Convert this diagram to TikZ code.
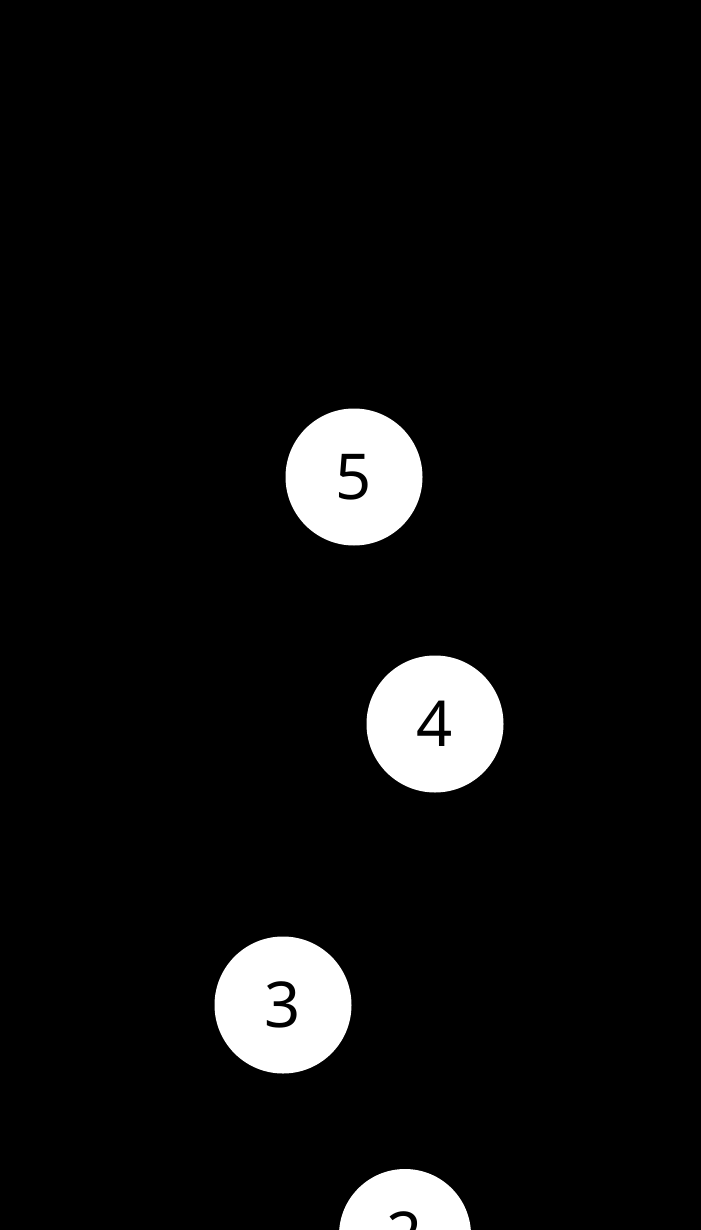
\documentclass[tikz,border=0pt]{standalone}
\usepackage{fontspec}
\setmainfont{Noto Sans}
\tikzset{ball/.style={circle,fill=white,minimum size=2.74cm,inner sep=0pt,font=\fontsize{36}{36}\selectfont}}

\begin{document}
\begin{tikzpicture}[scale=1]
  % 背景
  \useasboundingbox (0,0) rectangle (14,-24.6);
  \fill[black] (-0.5,0.5) rectangle (14.5,-25.1);

  % 节点
  \node[ball] (n5) at (7.08,-9.54) {5};
  \node[ball] (n4) at (8.70,-14.48) {4};
  \node[ball] (n3) at (5.66,-20.10) {3};
  \node[ball,minimum size=2.64cm] (n2) at (8.10,-24.70) {2};
\end{tikzpicture}
\end{document}
